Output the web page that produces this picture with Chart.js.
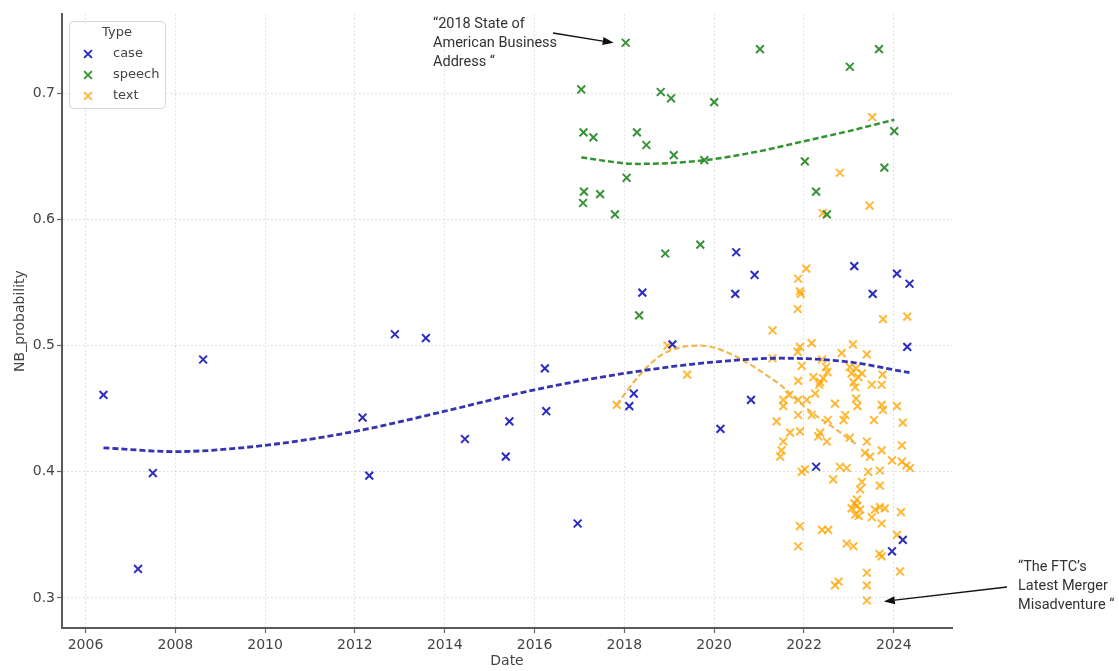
<!DOCTYPE html>
<html>
<head>
<meta charset="utf-8">
<script src="https://cdn.jsdelivr.net/npm/chart.js@4.4.1/dist/chart.umd.min.js"></script>
<style>
  html, body { margin: 0; padding: 0; background: #ffffff; }
  #wrap { width: 1119px; height: 671px; position: relative; }
</style>
</head>
<body>
<div id="wrap"><canvas id="chart" width="1119" height="671"></canvas></div>
<script>
// ---- data: NB probability per document, by type ----
const caseDate = [2006.40, 2007.17, 2007.50, 2008.62, 2012.17, 2012.32, 2012.89, 2013.58, 2014.45, 2015.44,
  2015.36, 2016.23, 2016.26, 2016.96, 2018.11, 2018.21, 2018.40, 2019.07, 2020.14, 2020.47,
  2020.49, 2020.82, 2020.90, 2022.27, 2023.12, 2023.53, 2023.96, 2024.07, 2024.20, 2024.30, 2024.35];
const caseProb = [0.461, 0.323, 0.399, 0.489, 0.443, 0.397, 0.509, 0.506, 0.426, 0.440,
  0.412, 0.482, 0.448, 0.359, 0.452, 0.462, 0.542, 0.501, 0.434, 0.541,
  0.574, 0.457, 0.556, 0.404, 0.563, 0.541, 0.337, 0.557, 0.346, 0.499, 0.549];

const speechDate = [2017.04, 2017.08, 2017.09, 2017.10, 2017.31, 2017.46, 2017.79, 2018.03, 2018.05, 2018.28,
  2018.33, 2018.49, 2018.81, 2018.91, 2019.04, 2019.10, 2019.69, 2019.78, 2020.00, 2021.02,
  2022.02, 2022.27, 2022.51, 2023.02, 2023.67, 2023.79, 2024.01];
const speechProb = [0.703, 0.613, 0.669, 0.622, 0.665, 0.620, 0.604, 0.740, 0.633, 0.669,
  0.524, 0.659, 0.701, 0.573, 0.696, 0.651, 0.580, 0.647, 0.693, 0.735,
  0.646, 0.622, 0.604, 0.721, 0.735, 0.641, 0.670];

const textDate = [2023.52, 2022.80, 2023.46, 2022.42, 2017.83, 2018.96, 2019.40,
  2022.05, 2021.87, 2021.93, 2021.91, 2021.86, 2021.30, 2023.76, 2024.30, 2021.91, 2022.17, 2021.86, 2023.09,
  2022.84, 2023.40, 2021.30, 2021.95, 2022.40, 2022.49, 2022.52, 2023.02, 2023.16, 2023.06, 2023.29,
  2023.75, 2023.73, 2021.87, 2022.21, 2022.36, 2022.43, 2022.34, 2023.10, 2023.21, 2023.14,
  2023.51, 2021.67, 2021.54, 2021.54, 2021.87, 2022.06, 2022.69, 2023.16, 2023.19, 2023.73,
  2024.07, 2021.39, 2021.87, 2022.17, 2022.53, 2022.88, 2022.92, 2023.56, 2023.76, 2024.20,
  2021.69, 2021.54, 2021.50, 2021.47, 2021.91, 2022.32, 2022.51, 2022.36, 2023.02, 2023.40,
  2023.36, 2023.47, 2023.73, 2024.18, 2023.96, 2024.18, 2024.36, 2024.28, 2021.95, 2022.02,
  2022.80, 2022.95, 2022.65, 2023.43, 2023.69, 2023.29, 2023.69, 2023.25, 2023.18, 2023.06,
  2023.14, 2023.25, 2023.58, 2023.69, 2023.80, 2023.51, 2023.73, 2024.16, 2021.91, 2022.40,
  2022.54, 2022.95, 2023.10, 2021.87, 2024.07, 2023.68, 2023.73, 2024.14, 2022.77, 2022.69,
  2023.40, 2023.40, 2023.40, 2023.18, 2023.22, 2023.12, 2022.25];
const textProb = [0.681, 0.637, 0.611, 0.605, 0.453, 0.500, 0.477,
  0.561, 0.553, 0.541, 0.543, 0.529, 0.512, 0.521, 0.523, 0.499, 0.502, 0.495, 0.501,
  0.494, 0.493, 0.490, 0.484, 0.489, 0.483, 0.479, 0.483, 0.482, 0.478, 0.478,
  0.477, 0.469, 0.472, 0.475, 0.471, 0.474, 0.469, 0.471, 0.475, 0.467,
  0.469, 0.461, 0.457, 0.452, 0.457, 0.457, 0.454, 0.458, 0.452, 0.453,
  0.452, 0.440, 0.445, 0.445, 0.441, 0.441, 0.445, 0.441, 0.449, 0.439,
  0.431, 0.424, 0.417, 0.412, 0.432, 0.428, 0.424, 0.431, 0.427, 0.424,
  0.415, 0.412, 0.417, 0.421, 0.409, 0.408, 0.403, 0.405, 0.400, 0.402,
  0.404, 0.403, 0.394, 0.400, 0.401, 0.392, 0.389, 0.386, 0.378, 0.371,
  0.366, 0.370, 0.370, 0.372, 0.371, 0.364, 0.359, 0.368, 0.357, 0.354,
  0.354, 0.343, 0.341, 0.341, 0.350, 0.335, 0.333, 0.321, 0.313, 0.310,
  0.320, 0.310, 0.298, 0.373, 0.365, 0.375, 0.462];

// smoothed trend per type
const caseTrendDate = [2006.40, 2008.0, 2010.0, 2012.0, 2014.0, 2016.0, 2018.0, 2020.0, 2021.5, 2023.0, 2024.35];
const caseTrendProb = [0.419, 0.416, 0.421, 0.432, 0.448, 0.465, 0.478, 0.487, 0.490, 0.487, 0.4785];
const speechTrendDate = [2017.04, 2018.3, 2019.8, 2021.0, 2022.0, 2023.0, 2024.01];
const speechTrendProb = [0.649, 0.644, 0.647, 0.654, 0.662, 0.670, 0.679];
const textTrendDate = [2017.83, 2018.3, 2018.8, 2019.3, 2019.7, 2020.2, 2020.8, 2021.5, 2022.1, 2022.7, 2023.15];
const textTrendProb = [0.453, 0.475, 0.492, 0.499, 0.500, 0.496, 0.485, 0.468, 0.449, 0.434, 0.422];

// axis ticks
const xTicks = [2006, 2008, 2010, 2012, 2014, 2016, 2018, 2020, 2022, 2024];
const yTicks = [0.3, 0.4, 0.5, 0.6, 0.7];

const typeNames = ['case', 'speech', 'text'];
const typeColors = ['rgba(20,20,185,0.9)', 'rgba(34,135,34,0.9)', 'rgba(255,165,0,0.78)'];
const trendColors = ['rgba(40,40,175,0.95)', 'rgba(40,140,40,0.95)', 'rgba(240,175,60,0.9)'];

const zip = (xs, ys) => xs.map((v, i) => ({ x: v, y: ys[i] }));

function scatterSet(label, xs, ys, color) {
  return {
    label, data: zip(xs, ys), pointStyle: 'crossRot', pointRadius: 5.5, pointHoverRadius: 5.5,
    pointBorderWidth: 2, borderColor: color, backgroundColor: color, showLine: false, order: 2
  };
}
function trendSet(label, xs, ys, color, width) {
  return {
    label, data: zip(xs, ys), showLine: true, pointRadius: 0, borderColor: color, borderWidth: width,
    borderDash: [6, 3], cubicInterpolationMode: 'monotone', fill: false, order: 1
  };
}

const AXIS_FONT = '"DejaVu Sans", sans-serif';
const NOTE_FONT = 'Roboto, "Liberation Sans", sans-serif';

function drawCross(ctx, cx, cy, r, color) {
  const d = r * Math.SQRT1_2;
  ctx.save();
  ctx.strokeStyle = color; ctx.lineWidth = 2;
  ctx.beginPath();
  ctx.moveTo(cx - d, cy - d); ctx.lineTo(cx + d, cy + d);
  ctx.moveTo(cx + d, cy - d); ctx.lineTo(cx - d, cy + d);
  ctx.stroke();
  ctx.restore();
}

function arrow(ctx, x1, y1, x2, y2) {
  const ang = Math.atan2(y2 - y1, x2 - x1);
  const len = 11, half = 4;
  const bx = x2 - len * Math.cos(ang), by = y2 - len * Math.sin(ang);
  ctx.save();
  ctx.strokeStyle = '#111'; ctx.fillStyle = '#111'; ctx.lineWidth = 1.3;
  ctx.beginPath(); ctx.moveTo(x1, y1); ctx.lineTo(bx, by); ctx.stroke();
  ctx.beginPath();
  ctx.moveTo(x2, y2);
  ctx.lineTo(bx + half * Math.sin(ang), by - half * Math.cos(ang));
  ctx.lineTo(bx - half * Math.sin(ang), by + half * Math.cos(ang));
  ctx.closePath(); ctx.fill();
  ctx.restore();
}

const overlay = {
  id: 'overlay',
  afterDraw(chart) {
    const { ctx, chartArea, scales: { x, y } } = chart;
    ctx.save();
    // axis titles
    ctx.fillStyle = '#444';
    ctx.font = '14px ' + AXIS_FONT;
    ctx.textAlign = 'center'; ctx.textBaseline = 'middle';
    ctx.fillText('Date', (chartArea.left + chartArea.right) / 2, 661);
    ctx.save();
    ctx.translate(20, (chartArea.top + chartArea.bottom) / 2);
    ctx.rotate(-Math.PI / 2);
    ctx.fillText('NB_probability', 0, 0);
    ctx.restore();

    // legend box
    const lx = 69, ly = 21, lw = 96, lh = 87;
    ctx.beginPath();
    ctx.roundRect(lx + 0.5, ly + 0.5, lw, lh, 4);
    ctx.fillStyle = 'rgba(255,255,255,0.85)'; ctx.fill();
    ctx.strokeStyle = '#d6d6d6'; ctx.lineWidth = 1; ctx.stroke();
    ctx.fillStyle = '#444';
    ctx.font = '13px ' + AXIS_FONT;
    ctx.textAlign = 'center';
    ctx.fillText('Type', lx + 48, ly + 12);
    ctx.textAlign = 'left';
    typeNames.forEach((name, i) => {
      const ry = ly + 33 + i * 21;
      drawCross(ctx, lx + 19, ry, 5.5, typeColors[i]);
      ctx.fillStyle = '#444';
      ctx.fillText(name, lx + 44, ry);
    });

    // annotations
    ctx.fillStyle = '#333';
    ctx.font = '14.5px ' + NOTE_FONT;
    ctx.textAlign = 'left';
    ['\u201c2018 State of', 'American Business', 'Address \u201c'].forEach((t, i) => ctx.fillText(t, 433, 24 + i * 19));
    ['\u201cThe FTC\u2019s', 'Latest Merger', 'Misadventure \u201c'].forEach((t, i) => ctx.fillText(t, 1018, 567 + i * 19));

    const sx = x.getPixelForValue(2018.03), sy = y.getPixelForValue(0.740);
    arrow(ctx, 553, 33, sx - 12, sy);
    const fx = x.getPixelForValue(2023.40), fy = y.getPixelForValue(0.298);
    arrow(ctx, 1007, 587, fx + 17, fy + 1);
    ctx.restore();
  }
};

new Chart(document.getElementById('chart'), {
  type: 'scatter',
  data: {
    datasets: [
      scatterSet('case', caseDate, caseProb, typeColors[0]),
      scatterSet('speech', speechDate, speechProb, typeColors[1]),
      scatterSet('text', textDate, textProb, typeColors[2]),
      trendSet('case trend', caseTrendDate, caseTrendProb, trendColors[0], 2.8),
      trendSet('speech trend', speechTrendDate, speechTrendProb, trendColors[1], 2.5),
      trendSet('text trend', textTrendDate, textTrendProb, trendColors[2], 2.2)
    ]
  },
  options: {
    responsive: false,
    animation: false,
    devicePixelRatio: 1,
    layout: { padding: { left: 0, top: 14, right: 167, bottom: 0 } },
    plugins: { legend: { display: false }, tooltip: { enabled: false } },
    scales: {
      x: {
        type: 'linear', min: 2005.477, max: 2025.296,
        afterBuildTicks: s => { s.ticks = xTicks.map(v => ({ value: v })); },
        afterFit: s => { s.height = 43; },
        ticks: { color: '#444', font: { family: AXIS_FONT, size: 14 }, padding: 4, callback: v => String(v) },
        grid: { color: '#d8d8d8', lineWidth: 1, tickLength: 5, tickColor: '#666', tickWidth: 1.2, tickBorderDash: [] },
        border: { display: true, color: '#5a5a5a', width: 2, dash: [1.5, 2.5] }
      },
      y: {
        type: 'linear', min: 0.2762, max: 0.7628,
        afterBuildTicks: s => { s.ticks = yTicks.map(v => ({ value: v })); },
        afterFit: s => { s.width = 62; },
        ticks: { color: '#444', font: { family: AXIS_FONT, size: 14 }, padding: 2, callback: v => v.toFixed(1) },
        grid: { color: '#d8d8d8', lineWidth: 1, tickLength: 5, tickColor: '#666', tickWidth: 1.2, tickBorderDash: [] },
        border: { display: true, color: '#5a5a5a', width: 2, dash: [1.5, 2.5] }
      }
    }
  },
  plugins: [overlay]
});
</script>
</body>
</html>
